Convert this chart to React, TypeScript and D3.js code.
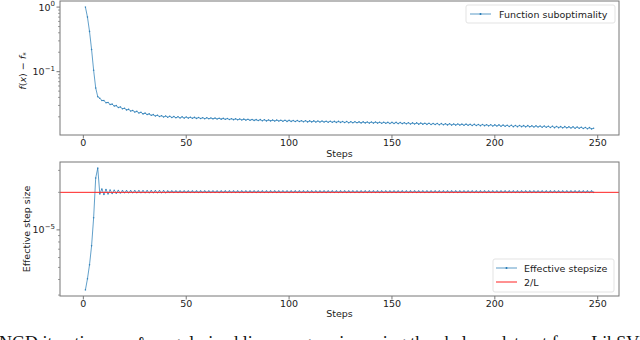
import React from "react";
import * as d3 from "d3";

const width = 640;
const height = 340;
const margin = { left: 60, right: 21 };
const topBox = { top: 1, bottom: 135 };
const bottomBox = { top: 162, bottom: 296 };

const xTicks = [0, 50, 100, 150, 200, 250];

// f(x) - f*, one value per step (steps 1..248)
const suboptimality = [
  1.0, 0.70, 0.42, 0.22, 0.105, 0.056, 0.041, 0.0388, 0.0358, 0.0357,
  0.0331, 0.0334, 0.0311, 0.0314, 0.0294, 0.0298, 0.0279, 0.0284, 0.0267, 0.0271,
  0.0256, 0.0261, 0.0246, 0.0251, 0.0237, 0.0243, 0.0229, 0.0235, 0.0222, 0.0228,
  0.0217, 0.0222, 0.0211, 0.0216, 0.0206, 0.0212, 0.0202, 0.0208, 0.0199, 0.0206,
  0.0197, 0.0204, 0.0195, 0.0202, 0.0193, 0.0201, 0.0192, 0.0200, 0.0191, 0.0199,
  0.0191, 0.0197, 0.0190, 0.0196, 0.0189, 0.0195, 0.0188, 0.0194, 0.0187, 0.0193,
  0.0187, 0.0192, 0.0186, 0.0191, 0.0185, 0.0190, 0.0184, 0.0189, 0.0183, 0.0188,
  0.0182, 0.0187, 0.0181, 0.0186, 0.0180, 0.0185, 0.0179, 0.0184, 0.0178, 0.0183,
  0.0177, 0.0182, 0.0176, 0.0181, 0.0175, 0.0181, 0.0174, 0.0180, 0.0173, 0.0179,
  0.0173, 0.0178, 0.0172, 0.0178, 0.0172, 0.0177, 0.0171, 0.0177, 0.0170, 0.0176,
  0.0170, 0.0175, 0.0169, 0.0175, 0.0169, 0.0174, 0.0168, 0.0174, 0.0167, 0.0173,
  0.0167, 0.0173, 0.0166, 0.0172, 0.0166, 0.0172, 0.0166, 0.0171, 0.0165, 0.0171,
  0.0165, 0.0170, 0.0164, 0.0170, 0.0164, 0.0169, 0.0163, 0.0169, 0.0162, 0.0168,
  0.0162, 0.0168, 0.0162, 0.0167, 0.0161, 0.0167, 0.0161, 0.0166, 0.0160, 0.0166,
  0.0160, 0.0166, 0.0160, 0.0165, 0.0159, 0.0165, 0.0159, 0.0164, 0.0158, 0.0164,
  0.0158, 0.0164, 0.0157, 0.0163, 0.0157, 0.0162, 0.0156, 0.0162, 0.0155, 0.0161,
  0.0155, 0.0161, 0.0154, 0.0160, 0.0154, 0.0159, 0.0153, 0.0159, 0.0152, 0.0158,
  0.0152, 0.0158, 0.0151, 0.0157, 0.0151, 0.0156, 0.0150, 0.0156, 0.0149, 0.0155,
  0.0149, 0.0155, 0.0149, 0.0154, 0.0148, 0.0154, 0.0148, 0.0153, 0.0147, 0.0153,
  0.0147, 0.0152, 0.0146, 0.0152, 0.0146, 0.0151, 0.0145, 0.0151, 0.0144, 0.0150,
  0.0144, 0.0150, 0.0143, 0.0149, 0.0143, 0.0148, 0.0142, 0.0148, 0.0141, 0.0147,
  0.0141, 0.0147, 0.0141, 0.0146, 0.0140, 0.0146, 0.0140, 0.0145, 0.0139, 0.0145,
  0.0139, 0.0144, 0.0138, 0.0144, 0.0138, 0.0143, 0.0137, 0.0143, 0.0136, 0.0142,
  0.0136, 0.0141, 0.0135, 0.0141, 0.0135, 0.0140, 0.0134, 0.0140, 0.0133, 0.0139,
  0.0133, 0.0138, 0.0132, 0.0137, 0.0131, 0.0136, 0.0130, 0.0133,
];

// effective step size, in units of 1e-5 (steps 1..248)
const stepsizeE5 = [
  0.33, 0.405, 0.525, 0.745, 1.25, 2.61, 3.13, 1.94, 2.13, 1.92,
  2.11, 1.94, 2.09, 1.96, 2.08, 1.97, 2.07, 1.98, 2.06, 1.99,
  2.06, 1.99, 2.06, 1.99, 2.06, 1.99, 2.06, 1.99, 2.06, 1.99,
  2.06, 1.99, 2.06, 1.99, 2.06, 1.99, 2.06, 1.99, 2.06, 1.99,
  2.05, 2.00, 2.05, 2.00, 2.05, 2.00, 2.05, 2.00, 2.05, 2.00,
  2.05, 2.00, 2.05, 2.00, 2.05, 2.00, 2.05, 2.00, 2.05, 2.00,
  2.05, 2.00, 2.05, 2.00, 2.05, 2.00, 2.05, 2.00, 2.05, 2.00,
  2.05, 2.00, 2.05, 2.00, 2.05, 2.00, 2.05, 2.00, 2.05, 2.00,
  2.05, 2.00, 2.05, 2.00, 2.05, 2.00, 2.05, 2.00, 2.05, 2.00,
  2.05, 2.00, 2.05, 2.00, 2.05, 2.00, 2.05, 2.00, 2.05, 2.00,
  2.05, 2.00, 2.05, 2.00, 2.05, 2.00, 2.05, 2.00, 2.05, 2.00,
  2.05, 2.00, 2.05, 2.00, 2.05, 2.00, 2.05, 2.00, 2.05, 2.00,
  2.05, 2.00, 2.05, 2.00, 2.05, 2.00, 2.05, 2.00, 2.05, 2.00,
  2.05, 2.00, 2.05, 2.00, 2.05, 2.00, 2.05, 2.00, 2.05, 2.00,
  2.05, 2.00, 2.05, 2.00, 2.05, 2.00, 2.05, 2.00, 2.05, 2.00,
  2.05, 2.00, 2.05, 2.00, 2.05, 2.00, 2.05, 2.00, 2.05, 2.00,
  2.05, 2.00, 2.05, 2.00, 2.05, 2.00, 2.05, 2.00, 2.05, 2.00,
  2.05, 2.00, 2.05, 2.00, 2.05, 2.00, 2.05, 2.00, 2.05, 2.00,
  2.05, 2.00, 2.05, 2.00, 2.05, 2.00, 2.05, 2.00, 2.05, 2.00,
  2.05, 2.00, 2.05, 2.00, 2.05, 2.00, 2.05, 2.00, 2.05, 2.00,
  2.05, 2.00, 2.05, 2.00, 2.05, 2.00, 2.05, 2.00, 2.05, 2.00,
  2.05, 2.00, 2.05, 2.00, 2.05, 2.00, 2.05, 2.00, 2.05, 2.00,
  2.05, 2.00, 2.05, 2.00, 2.05, 2.00, 2.05, 2.00, 2.05, 2.00,
  2.05, 2.00, 2.05, 2.00, 2.05, 2.00, 2.05, 2.00, 2.05, 2.00,
  2.05, 2.00, 2.05, 2.00, 2.05, 2.00, 2.05, 2.00,
];

const twoOverL = 2.0e-5;

const caption =
  "NGD iterations on \u2113\u2082-regularized linear regression using the abalone dataset from LibSVM.";

const font = "DejaVu Sans";
const blue = "#1f77b4";
const spine = "#777";
const fs = 9.5;

// log scale with matplotlib style 5% padding in log space
const padLog = (values, y0, y1) => {
  const [lo, hi] = d3.extent(values).map(Math.log10);
  const pad = (hi - lo) * 0.05;
  return d3
    .scaleLog()
    .domain([Math.pow(10, lo - pad), Math.pow(10, hi + pad)])
    .range([y1, y0]);
};

const logTicks = (scale) => {
  const [a, b] = scale.domain();
  const major = [];
  const minor = [];
  for (let e = Math.floor(Math.log10(a)); e <= Math.ceil(Math.log10(b)); e++) {
    for (let k = 1; k < 10; k++) {
      const v = k * Math.pow(10, e);
      if (v < a || v > b) continue;
      if (k === 1) major.push({ v, e });
      else minor.push(v);
    }
  }
  return { major, minor };
};

const AxisBottom = ({ xScale, y, labelY }) => (
  <g>
    {xTicks.map((t) => (
      <g key={t}>
        <line x1={xScale(t)} x2={xScale(t)} y1={y} y2={y + 3.5} stroke={spine} />
        <text x={xScale(t)} y={y + 11} fontSize={fs} textAnchor="middle" fill="#222">
          {t}
        </text>
      </g>
    ))}
    <text x={(xScale.range()[0] + xScale.range()[1]) / 2} y={labelY} fontSize={fs} textAnchor="middle" fill="#222">
      Steps
    </text>
  </g>
);

const AxisLeft = ({ yScale, x }) => {
  const { major, minor } = logTicks(yScale);
  return (
    <g>
      {minor.map((v, i) => (
        <line key={"m" + i} x1={x - 2} x2={x} y1={yScale(v)} y2={yScale(v)} stroke={spine} strokeWidth={0.7} />
      ))}
      {major.map((d) => (
        <g key={d.e}>
          <line x1={x - 3.5} x2={x} y1={yScale(d.v)} y2={yScale(d.v)} stroke={spine} />
          <text x={x - 5} y={yScale(d.v) + 3.5} fontSize={fs} textAnchor="end" fill="#222">
            10
            <tspan dy={-4.5} fontSize={7}>
              {d.e === 0 ? "0" : "\u2212" + Math.abs(d.e)}
            </tspan>
          </text>
        </g>
      ))}
    </g>
  );
};

const Series = ({ xScale, yScale, values }) => {
  const line = d3
    .line()
    .x((d, i) => xScale(i + 1))
    .y((d) => yScale(d));
  return (
    <g>
      <path d={line(values)} fill="none" stroke={blue} strokeWidth={1} opacity={0.7} />
      {values.map((v, i) => (
        <circle key={i} cx={xScale(i + 1)} cy={yScale(v)} r={0.8} fill={blue} opacity={0.8} />
      ))}
    </g>
  );
};

const LegendBlue = ({ x, y }) => (
  <g>
    <line x1={x} x2={x + 21} y1={y} y2={y} stroke={blue} strokeWidth={1.2} opacity={0.6} />
    <circle cx={x + 10.5} cy={y} r={1} fill={blue} />
  </g>
);

const App = () => {
  const x0 = margin.left;
  const x1 = width - margin.right;
  const n = suboptimality.length;
  const pad = (n - 1) * 0.05;
  const xScale = d3.scaleLinear().domain([1 - pad, n + pad]).range([x0, x1]);

  const yTop = padLog(suboptimality, topBox.top, topBox.bottom);
  const stepsize = stepsizeE5.map((v) => v * 1e-5);
  const yBot = padLog(stepsize, bottomBox.top, bottomBox.bottom);

  return (
    <svg
      width={width}
      height={height}
      style={{ position: "absolute", left: 0, top: 0, background: "#fff" }}
      fontFamily={font}
    >
      <defs>
        <clipPath id="clipTop">
          <rect x={x0} y={topBox.top} width={x1 - x0} height={topBox.bottom - topBox.top} />
        </clipPath>
        <clipPath id="clipBot">
          <rect x={x0} y={bottomBox.top} width={x1 - x0} height={bottomBox.bottom - bottomBox.top} />
        </clipPath>
      </defs>

      {/* top panel */}
      <g clipPath="url(#clipTop)">
        <Series xScale={xScale} yScale={yTop} values={suboptimality} />
      </g>
      <rect x={x0} y={topBox.top} width={x1 - x0} height={topBox.bottom - topBox.top} fill="none" stroke={spine} />
      <AxisLeft yScale={yTop} x={x0} />
      <AxisBottom xScale={xScale} y={topBox.bottom} labelY={157} />
      <text transform="translate(26,71) rotate(-90)" fontSize={fs} textAnchor="middle" fill="#222">
        <tspan fontStyle="italic">f</tspan>(<tspan fontStyle="italic">x</tspan>) {"\u2212"}{" "}
        <tspan fontStyle="italic">f</tspan>
        <tspan dy={2} fontSize={7}>*</tspan>
      </text>
      <rect x={466} y={5} width={149} height={18} rx={2} fill="#fff" opacity={0.8} stroke="#ddd" />
      <LegendBlue x={470} y={14} />
      <text x={499} y={17.5} fontSize={fs} fill="#222">
        Function suboptimality
      </text>

      {/* bottom panel */}
      <g clipPath="url(#clipBot)">
        <Series xScale={xScale} yScale={yBot} values={stepsize} />
        <line x1={x0} x2={x1} y1={yBot(twoOverL)} y2={yBot(twoOverL)} stroke="#f22" strokeWidth={1} />
      </g>
      <rect x={x0} y={bottomBox.top} width={x1 - x0} height={bottomBox.bottom - bottomBox.top} fill="none" stroke={spine} />
      <AxisLeft yScale={yBot} x={x0} />
      <AxisBottom xScale={xScale} y={bottomBox.bottom} labelY={317} />
      <text transform="translate(30,229) rotate(-90)" fontSize={fs} textAnchor="middle" fill="#222">
        Effective step size
      </text>
      <rect x={493} y={259} width={121} height={33} rx={2} fill="#fff" opacity={0.8} stroke="#ddd" />
      <LegendBlue x={496} y={268} />
      <text x={524} y={271.5} fontSize={fs} fill="#222">
        Effective stepsize
      </text>
      <line x1={496} x2={517} y1={282} y2={282} stroke="#f22" strokeWidth={1} />
      <text x={524} y={285.5} fontSize={fs} fill="#222">
        2/L
      </text>

      {/* figure caption, cut at the bottom edge as in the source figure */}
      <text x={-1} y={349} fontFamily="Liberation Serif" fontSize={18} fill="#111">
        {caption}
      </text>
    </svg>
  );
};

export default App;
